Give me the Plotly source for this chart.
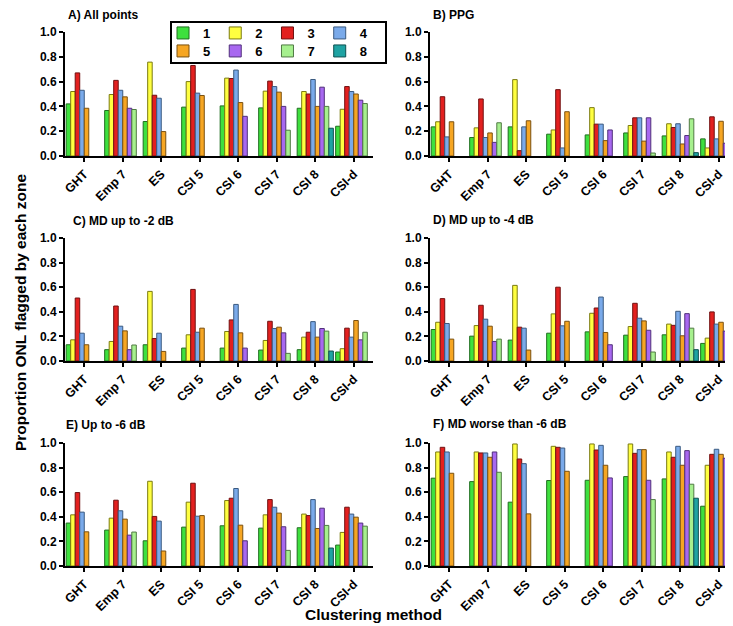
import plotly.graph_objects as go

categories = ["GHT", "Emp 7", "ES", "CSI 5", "CSI 6", "CSI 7", "CSI 8", "CSI-d"]
zones = ["1", "2", "3", "4", "5", "6", "7", "8"]
zone_colors = ["#3ee03e", "#ffff40", "#e3201f", "#7aaaea", "#f6a623", "#a868f0", "#a6f08e", "#1fa3a3"]
zone_edges = ["#1f6e1f", "#7a7a10", "#701010", "#3a5a80", "#7a5010", "#50307a", "#507a44", "#0e5050"]

# values per category, listed in zone order (zone 1, 2, ...)
panel_A = [
    [0.42, 0.52, 0.67, 0.53, 0.385],
    [0.367, 0.496, 0.61, 0.53, 0.477, 0.385, 0.375],
    [0.278, 0.757, 0.49, 0.466, 0.197],
    [0.394, 0.60, 0.73, 0.507, 0.488],
    [0.404, 0.628, 0.625, 0.693, 0.431, 0.32],
    [0.388, 0.523, 0.604, 0.56, 0.515, 0.40, 0.208],
    [0.385, 0.52, 0.50, 0.617, 0.40, 0.555, 0.40, 0.224],
    [0.24, 0.377, 0.56, 0.52, 0.50, 0.45, 0.423],
]
panel_B = [
    [0.235, 0.276, 0.478, 0.154, 0.276],
    [0.149, 0.227, 0.46, 0.149, 0.186, 0.11, 0.268],
    [0.235, 0.616, 0.043, 0.235, 0.284],
    [0.176, 0.21, 0.535, 0.065, 0.357],
    [0.17, 0.39, 0.257, 0.257, 0.124, 0.21],
    [0.186, 0.246, 0.308, 0.308, 0.12, 0.308, 0.024],
    [0.162, 0.26, 0.23, 0.26, 0.097, 0.165, 0.30, 0.027],
    [0.138, 0.065, 0.316, 0.138, 0.28, 0.103, 0.243],
]
panel_C = [
    [0.132, 0.172, 0.512, 0.226, 0.132],
    [0.092, 0.159, 0.447, 0.283, 0.245, 0.092, 0.13],
    [0.132, 0.566, 0.183, 0.226, 0.078],
    [0.105, 0.213, 0.582, 0.234, 0.267],
    [0.105, 0.24, 0.334, 0.46, 0.229, 0.105],
    [0.089, 0.167, 0.323, 0.264, 0.275, 0.229, 0.062],
    [0.092, 0.194, 0.234, 0.32, 0.194, 0.264, 0.243, 0.081],
    [0.073, 0.10, 0.267, 0.194, 0.329, 0.172, 0.234],
]
panel_D = [
    [0.256, 0.315, 0.507, 0.305, 0.178],
    [0.202, 0.288, 0.453, 0.34, 0.283, 0.159, 0.178],
    [0.17, 0.615, 0.275, 0.267, 0.089],
    [0.226, 0.383, 0.60, 0.286, 0.323],
    [0.237, 0.388, 0.431, 0.52, 0.232, 0.132],
    [0.21, 0.28, 0.469, 0.348, 0.326, 0.25, 0.073],
    [0.213, 0.30, 0.29, 0.404, 0.205, 0.385, 0.267, 0.092],
    [0.143, 0.186, 0.399, 0.30, 0.315, 0.243, 0.234],
]
panel_E = [
    [0.349, 0.416, 0.597, 0.438, 0.278],
    [0.292, 0.389, 0.535, 0.449, 0.381, 0.251, 0.276],
    [0.205, 0.689, 0.403, 0.365, 0.122],
    [0.316, 0.519, 0.673, 0.405, 0.41],
    [0.327, 0.532, 0.551, 0.63, 0.332, 0.205],
    [0.308, 0.416, 0.54, 0.478, 0.43, 0.319, 0.127],
    [0.311, 0.422, 0.41, 0.54, 0.305, 0.47, 0.33, 0.146],
    [0.17, 0.273, 0.478, 0.422, 0.397, 0.349, 0.324],
]
panel_F = [
    [0.714, 0.927, 0.965, 0.927, 0.754],
    [0.686, 0.927, 0.919, 0.919, 0.884, 0.927, 0.762],
    [0.519, 0.992, 0.87, 0.832, 0.424],
    [0.695, 0.973, 0.965, 0.959, 0.77],
    [0.697, 0.992, 0.943, 0.981, 0.819, 0.716],
    [0.727, 0.992, 0.916, 0.946, 0.946, 0.697, 0.54],
    [0.708, 0.927, 0.884, 0.973, 0.819, 0.938, 0.665, 0.551],
    [0.486, 0.819, 0.908, 0.949, 0.908, 0.876, 0.80],
]
panel_titles = ["A) All points", "B) PPG", "C) MD up to -2 dB", "D) MD up to -4 dB",
                "E) Up to -6 dB", "F) MD worse than -6 dB"]
panels = [panel_A, panel_B, panel_C, panel_D, panel_E, panel_F]
y_ticks = [0.0, 0.2, 0.4, 0.6, 0.8, 1.0]

W, H = 733, 626
FONT = "Arial, Liberation Sans, sans-serif"

# pixel layout of the plot areas
col_x = [(57, 365), (422, 730)]
row_y = [(24, 148), (230, 353), (435, 558)]
title_pos = [(58, 7), (423, 7), (63, 213), (423, 212), (56, 417), (423, 416)]

fig = go.Figure()
layout_axes = {}
for p, data in enumerate(panels):
    r, c = divmod(p, 2)
    idx = p + 1
    xa = "x" if idx == 1 else f"x{idx}"
    ya = "y" if idx == 1 else f"y{idx}"
    for z in range(8):
        vals = [cat[z] if z < len(cat) else None for cat in data]
        fig.add_trace(go.Bar(
            x=categories, y=vals, name=zones[z], xaxis=xa, yaxis=ya,
            marker=dict(color=zone_colors[z], line=dict(color=zone_edges[z], width=1)),
            showlegend=(p == 0),
            legend="legend" if z < 4 else "legend2",
        ))
    x0, x1 = col_x[c]
    yt, yb = row_y[r]
    layout_axes["xaxis" if idx == 1 else f"xaxis{idx}"] = dict(
        domain=[x0 / W, x1 / W], anchor=ya, type="category",
        categoryorder="array", categoryarray=categories, range=[-0.5, 7.5],
        showline=True, linecolor="black", linewidth=2, ticks="outside",
        ticklen=4, tickwidth=2, tickcolor="black", tickangle=-45,
        tickfont=dict(family=FONT, size=12.5, color="black", weight="bold"),
        showgrid=False, zeroline=False, automargin=False,
    )
    layout_axes["yaxis" if idx == 1 else f"yaxis{idx}"] = dict(
        domain=[1 - yb / H, 1 - yt / H], anchor=xa, range=[0, 1],
        tickvals=y_ticks, ticktext=[f"{v:.1f}" for v in y_ticks],
        showline=True, linecolor="black", linewidth=2, ticks="outside",
        ticklen=4, tickwidth=2, tickcolor="black",
        tickfont=dict(family=FONT, size=12, color="black", weight="bold"),
        showgrid=False, zeroline=False, automargin=False,
    )

annotations = []
for p, t in enumerate(panel_titles):
    tx, ty = title_pos[p]
    annotations.append(dict(text=t, x=tx / W, y=1 - ty / H, xref="paper", yref="paper",
                            xanchor="left", yanchor="middle", showarrow=False,
                            font=dict(family=FONT, size=12, color="black", weight="bold")))
annotations.append(dict(text="Proportion ONL flagged by each zone", x=12 / W, y=1 - 305 / H,
                        xref="paper", yref="paper", textangle=-90, showarrow=False,
                        xanchor="center", yanchor="middle",
                        font=dict(family=FONT, size=15.5, color="black", weight="bold")))
annotations.append(dict(text="Clustering method", x=365 / W, y=1 - 606 / H,
                        xref="paper", yref="paper", showarrow=False,
                        xanchor="center", yanchor="middle",
                        font=dict(family=FONT, size=15.5, color="black", weight="bold")))

legend_common = dict(orientation="h", xanchor="left", yanchor="middle",
                     bgcolor="rgba(0,0,0,0)", borderwidth=0, itemwidth=30,
                     traceorder="normal", tracegroupgap=0,
                     font=dict(family=FONT, size=13, color="black", weight="bold"),
                     itemclick=False, itemdoubleclick=False)

fig.update_layout(
    width=W, height=H, margin=dict(l=0, r=0, t=0, b=0),
    paper_bgcolor="white", plot_bgcolor="white",
    barmode="group", bargap=0.06, bargroupgap=0.0,
    annotations=annotations,
    legend=dict(x=155 / W, y=1 - 25 / H, **legend_common),
    legend2=dict(x=155 / W, y=1 - 43 / H, **legend_common),
    shapes=[dict(type="rect", xref="paper", yref="paper",
                 x0=163 / W, x1=378 / W, y0=1 - 55 / H, y1=1 - 14 / H,
                 line=dict(color="black", width=2), fillcolor="rgba(0,0,0,0)")],
    **layout_axes,
)

fig.write_html("out.html")
